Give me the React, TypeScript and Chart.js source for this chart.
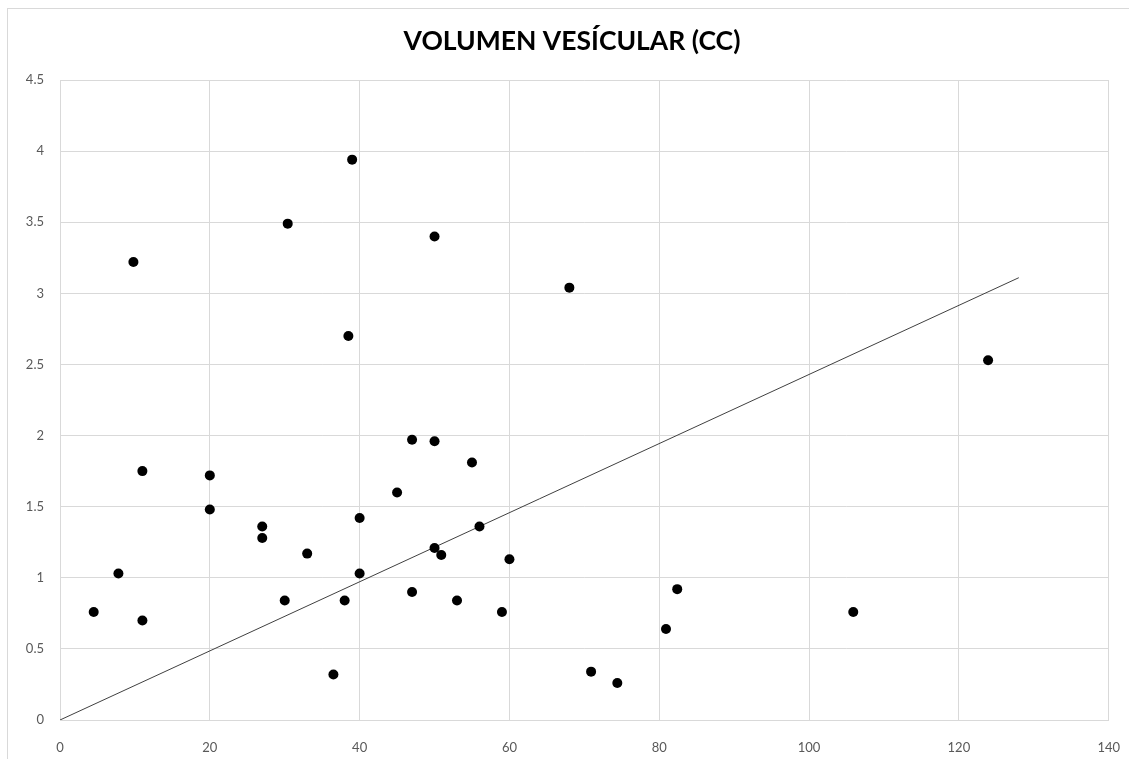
import React, { useEffect, useRef } from "react";
import { Chart, registerables } from "chart.js";

Chart.register(...registerables);

const TITLE = "VOLUMEN VESÍCULAR (CC)";

const volumeX = [
  4.5, 7.8, 11, 11, 9.8, 20, 20, 27, 27, 30, 30.4, 33, 36.5, 38, 38.5, 39,
  40, 40, 45, 47, 47, 50, 50, 50, 50.9, 53, 55, 56, 59, 60, 68, 70.9, 74.4,
  80.9, 82.4, 105.9, 123.9,
];
const volumeY = [
  0.76, 1.03, 0.7, 1.75, 3.22, 1.72, 1.48, 1.36, 1.28, 0.84, 3.49, 1.17, 0.32,
  0.84, 2.7, 3.94, 1.42, 1.03, 1.6, 1.97, 0.9, 3.4, 1.96, 1.21, 1.16, 0.84,
  1.81, 1.36, 0.76, 1.13, 3.04, 0.34, 0.26, 0.64, 0.92, 0.76, 2.53,
];

const trendX = [0, 128];
const trendY = [0, 3.11];

const xTicks = [0, 20, 40, 60, 80, 100, 120, 140];
const yTicks = [0, 0.5, 1, 1.5, 2, 2.5, 3, 3.5, 4, 4.5];

const titlePlugin = {
  id: "excelTitle",
  afterDraw(chart: any) {
    const ctx = chart.ctx;
    ctx.save();
    ctx.font = "bold 26.5px Lato";
    ctx.fillStyle = "#000000";
    ctx.textAlign = "center";
    ctx.textBaseline = "middle";
    ctx.fillText(TITLE, 564, 32);
    ctx.restore();
  },
};

export default function App() {
  const ref = useRef<HTMLCanvasElement | null>(null);

  useEffect(() => {
    document.documentElement.style.overflow = "hidden";
    document.body.style.overflow = "hidden";
    const canvas = ref.current;
    if (!canvas) return;
    const points = volumeX.map((x, i) => ({ x, y: volumeY[i] }));
    const trend = trendX.map((x, i) => ({ x, y: trendY[i] }));
    const tickFont = { family: "Lato", size: 13 };
    const chart = new Chart(canvas, {
      type: "scatter",
      data: {
        datasets: [
          {
            label: "Volumen",
            data: points,
            backgroundColor: "#000000",
            borderColor: "#000000",
            borderWidth: 0,
            pointRadius: 5,
            pointHoverRadius: 5,
            order: 0,
          },
          {
            label: "Tendencia",
            data: trend,
            showLine: true,
            borderColor: "#404040",
            borderWidth: 1,
            pointRadius: 0,
            pointHoverRadius: 0,
            fill: false,
            order: 1,
          } as any,
        ],
      },
      plugins: [titlePlugin],
      options: {
        responsive: false,
        animation: false,
        layout: { padding: { left: 0, right: 0, top: 71, bottom: 0 } },
        plugins: {
          legend: { display: false },
          tooltip: { enabled: false },
          title: { display: false },
        },
        scales: {
          x: {
            type: "linear",
            min: 0,
            max: 140,
            afterBuildTicks: (scale: any) => {
              scale.ticks = xTicks.map((v) => ({ value: v }));
            },
            afterFit: (scale: any) => {
              scale.height = 39;
            },
            grid: {
              color: "#d9d9d9",
              lineWidth: 1,
              drawTicks: true,
              tickLength: 11,
              tickColor: "rgba(0,0,0,0)",
            },
            border: { color: "#d9d9d9", width: 1 },
            ticks: {
              color: "#595959",
              font: tickFont,
              padding: 9,
              maxRotation: 0,
              autoSkip: false,
              callback: (v: any) => String(v),
            },
          },
          y: {
            type: "linear",
            min: 0,
            max: 4.5,
            afterBuildTicks: (scale: any) => {
              scale.ticks = yTicks.map((v) => ({ value: v }));
            },
            afterFit: (scale: any) => {
              scale.width = 52;
            },
            grid: {
              color: "#d9d9d9",
              lineWidth: 1,
              drawTicks: false,
            },
            border: { color: "#d9d9d9", width: 1 },
            ticks: {
              color: "#595959",
              font: tickFont,
              padding: 16,
              autoSkip: false,
              callback: (v: any) => String(v),
            },
          },
        },
      },
    });
    return () => chart.destroy();
  }, []);

  return (
    <div
      style={{
        position: "absolute",
        left: 7,
        top: 8,
        width: 1122,
        height: 751,
        boxSizing: "border-box",
        borderTop: "1px solid #d9d9d9",
        borderLeft: "1px solid #d9d9d9",
        background: "#ffffff",
      }}
    >
      <canvas ref={ref} width={1121} height={750} style={{ display: "block" }} />
    </div>
  );
}
